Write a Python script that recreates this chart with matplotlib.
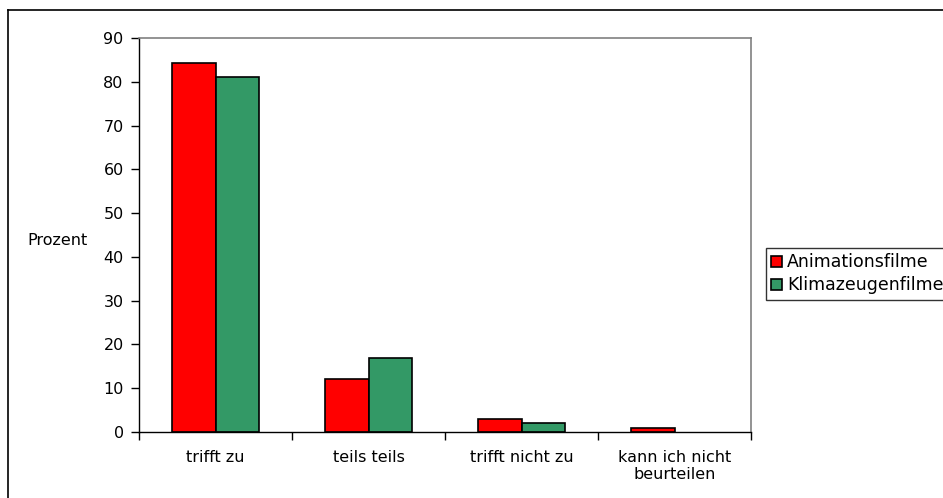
import numpy as np
import matplotlib.pyplot as plt
from matplotlib.lines import Line2D

# Daten
categories = ["trifft zu", "teils teils", "trifft nicht zu", "kann ich nicht\nbeurteilen"]
animation = [84.3, 12.0, 3.0, 1.0]
klimazeugen = [81.0, 17.0, 2.0, 0.0]
series_names = ["Animationsfilme", "Klimazeugenfilme"]

plt.rcParams['font.family'] = ['DejaVu Sans']
plt.rcParams['font.size'] = 11.5

fig = plt.figure(figsize=(9.43, 4.98), dpi=100)
ax = fig.add_axes([139/943, 66/498, 612/943, 394/498])

x = np.arange(len(categories))
w = 0.285
b1 = ax.bar(x - w/2, animation, w, color="#ff0000", edgecolor="black", linewidth=1.2, label=series_names[0])
b2 = ax.bar(x + w/2, klimazeugen, w, color="#339966", edgecolor="black", linewidth=1.2, label=series_names[1])
# Balken mit Wert 0 nicht zeichnen
for bars in (b1, b2):
    for r in bars:
        if r.get_height() == 0:
            r.set_visible(False)

ax.set_xlim(-0.5, len(categories) - 0.5)
ax.set_ylim(0, 90)
ax.set_yticks(range(0, 91, 10))
ax.set_xticks(x)
ax.set_xticklabels(categories, linespacing=1.15)
ax.tick_params(axis='x', length=0, pad=13)
ax.tick_params(axis='y', length=6, width=1, pad=5)
# Trennstriche zwischen Kategorien
ax.set_xticks(np.arange(-0.5, len(categories)), minor=True)
ax.tick_params(axis='x', which='minor', length=6, width=1, direction='out')

for s in ["top", "right"]:
    ax.spines[s].set_color("#808080")
    ax.spines[s].set_linewidth(1.2)
for s in ["left", "bottom"]:
    ax.spines[s].set_color("black")
    ax.spines[s].set_linewidth(1)

ax.set_ylabel("Prozent", rotation=0, va="center", ha="left")
ax.yaxis.set_label_coords(-(139 - 27) / 612, 1 - (240 - 38) / 394)

leg = fig.legend(loc="upper left", bbox_to_anchor=(766/943, 1 - 248/498), frameon=True,
                 fancybox=False, handlelength=0.6, handleheight=0.6, handletextpad=0.3,
                 borderpad=0.3, labelspacing=0.3, borderaxespad=0, fontsize=12.5)
leg.get_frame().set_edgecolor("black")
leg.get_frame().set_linewidth(1)

# aeusserer Rahmen
fig.add_artist(Line2D([8/943, 1], [1 - 10/498, 1 - 10/498], color="black", linewidth=1.2))
fig.add_artist(Line2D([8/943, 8/943], [0, 1 - 10/498], color="black", linewidth=1.2))

fig.savefig("out.png", dpi=100)
